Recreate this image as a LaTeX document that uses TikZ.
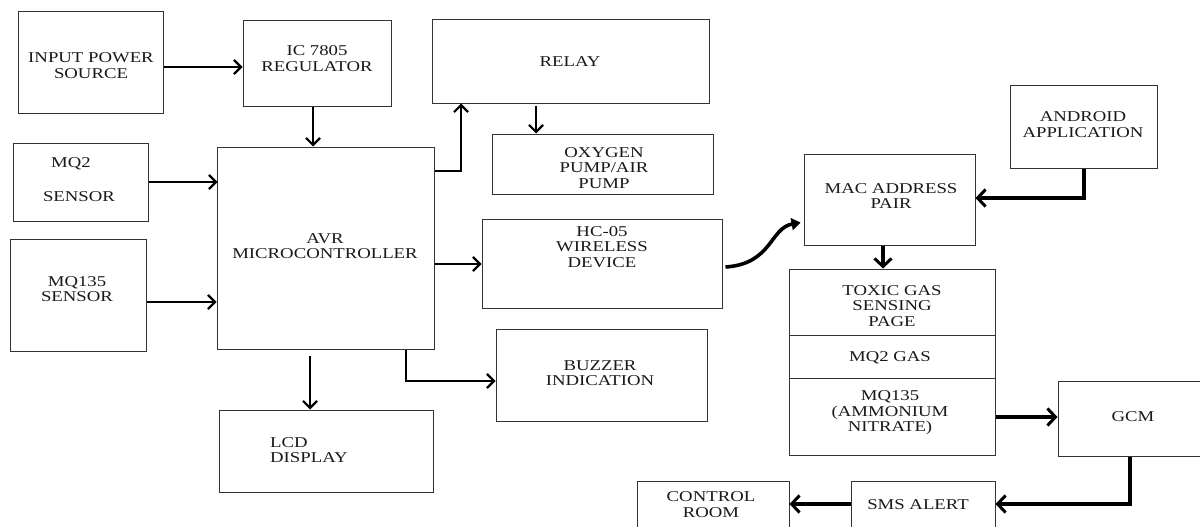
\documentclass[tikz,border=0pt]{standalone}
\usepackage{fontspec}
\setmainfont{Liberation Serif}[FakeStretch=1.25]
\usetikzlibrary{arrows.meta,fit}
\begin{document}
\begin{tikzpicture}[x=1pt,y=-1pt,
  box/.style={draw=black!80, line width=1pt, inner sep=0pt},
  lbl/.style={align=center, font=\fontsize{15}{15.5}\selectfont, text=black!90, inner sep=0pt},
  thinarr/.style={line width=2.6pt, draw=black, -{Straight Barb[length=7pt,width=14pt,line width=2.2pt]}},
  thickarr/.style={line width=3.8pt, draw=black, -{Straight Barb[length=8pt,width=17pt,line width=3pt]}},
  curvearr/.style={line width=3.6pt, draw=black, -{Triangle[length=9pt,width=12pt]}}]
\useasboundingbox (0,0) rectangle (1200,527);
\clip (0,0) rectangle (1200,527);
% boxes
\node[box, fit={(18,12) (163,113)}] (inp) {};
\node[box, fit={(243,21) (391,106)}] (ic) {};
\node[box, fit={(432,20) (709,103)}] (relay) {};
\node[box, fit={(492,134) (713,194)}] (oxy) {};
\node[box, fit={(482,219) (722,308)}] (hc) {};
\node[box, fit={(13,143) (148,221)}] (mq2) {};
\node[box, fit={(10,239) (146,351)}] (mq135) {};
\node[box, fit={(217,147) (434,349)}] (avr) {};
\node[box, fit={(219,410) (433,492)}] (lcd) {};
\node[box, fit={(496,329) (707,421)}] (buz) {};
\node[box, fit={(804,154) (975,245)}] (mac) {};
\node[box, fit={(1010,86) (1157,168)}] (andr) {};
\node[box, fit={(789,269) (995,335)}] (tox1) {};
\node[box, fit={(789,335) (995,378)}] (tox2) {};
\node[box, fit={(789,378) (995,455)}] (tox3) {};
\node[box, fit={(1058,381) (1215,456)}] (gcm) {};
\node[box, fit={(851,481) (995,545)}] (sms) {};
\node[box, fit={(637,481) (789,545)}] (ctrl) {};
% texts
\node[lbl] (inpT) at (91,65.5) {INPUT POWER\\SOURCE};
\node[lbl] (icT) at (317,58.5) {IC 7805\\REGULATOR};
\node[lbl] (relayT) at (570,62) {RELAY};
\node[lbl] (oxyT) at (604,168) {OXYGEN\\PUMP/AIR\\PUMP};
\node[lbl] (hcT) at (602,247) {HC-05\\WIRELESS\\DEVICE};
\node[lbl] (mq2T) at (71,164) {MQ2};
\node[lbl] (mq2S) at (79,197) {SENSOR};
\node[lbl] (mq135T) at (77,289) {MQ135\\SENSOR};
\node[lbl] (avrT) at (325,246) {AVR\\MICROCONTROLLER};
\node[lbl, align=left, anchor=west] (lcdT) at (270,450) {LCD\\DISPLAY};
\node[lbl] (buzT) at (600,373) {BUZZER\\INDICATION};
\node[lbl] (macT) at (891,196) {MAC ADDRESS\\PAIR};
\node[lbl] (andrT) at (1083,124.5) {ANDROID\\APPLICATION};
\node[lbl] (tox1T) at (892,306) {TOXIC GAS\\SENSING\\PAGE};
\node[lbl] (tox2T) at (890,358) {MQ2 GAS};
\node[lbl] (tox3T) at (890,413) {MQ135\\(AMMONIUM\\NITRATE)};
\node[lbl] (gcmT) at (1133,417) {GCM};
\node[lbl] (smsT) at (918,505) {SMS ALERT};
\node[lbl] (ctrlT) at (711,504.5) {CONTROL\\ROOM};
% guide coordinates
\coordinate (r1) at (0,67);
\coordinate (c2) at (313,0);
\coordinate (r3) at (0,182);
\coordinate (r4) at (0,171);
\coordinate (c4) at (461,0);
\coordinate (c5) at (536,0);
\coordinate (r6) at (0,264);
\coordinate (r7) at (0,302);
\coordinate (c8) at (310,0);
\coordinate (c9) at (406,0);
\coordinate (r9) at (0,381);
\coordinate (r10a) at (0,267);
\coordinate (r10b) at (0,222);
\coordinate (c11) at (1084,0);
\coordinate (r11) at (0,198);
\coordinate (c12) at (883,0);
\coordinate (r13) at (0,417);
\coordinate (c14) at (1130,0);
\coordinate (r14) at (0,504);
% connectors
\draw[thinarr] (inp.east |- r1) -- (ic.west |- r1);
\draw[thinarr] (ic.south -| c2) -- (avr.north -| c2);
\draw[thinarr] (mq2.east |- r3) -- ([xshift=1pt]avr.west |- r3);
\draw[thinarr] (avr.east |- r4) -| (relay.south -| c4);
\draw[thinarr] ([yshift=-2pt]relay.south -| c5) -- (oxy.north -| c5);
\draw[thinarr] (avr.east |- r6) -- (hc.west |- r6);
\draw[thinarr] (mq135.east |- r7) -- (avr.west |- r7);
\draw[thinarr] ([yshift=-6pt]avr.south -| c8) -- (lcd.north -| c8);
\draw[thinarr] (avr.south -| c9) |- (buz.west |- r9);
\draw[curvearr, shorten >=3pt] ([xshift=3pt]hc.east |- r10a) .. controls (772,264) and (770,228) .. (mac.west |- r10b);
\draw[thickarr] (andr.south -| c11) |- (mac.east |- r11);
\draw[thickarr] (mac.south -| c12) -- (tox1.north -| c12);
\draw[thickarr] (tox3.east |- r13) -- (gcm.west |- r13);
\draw[thickarr] (gcm.south -| c14) |- (sms.east |- r14);
\draw[thickarr] (sms.west |- r14) -- (ctrl.east |- r14);
\end{tikzpicture}
\end{document}
